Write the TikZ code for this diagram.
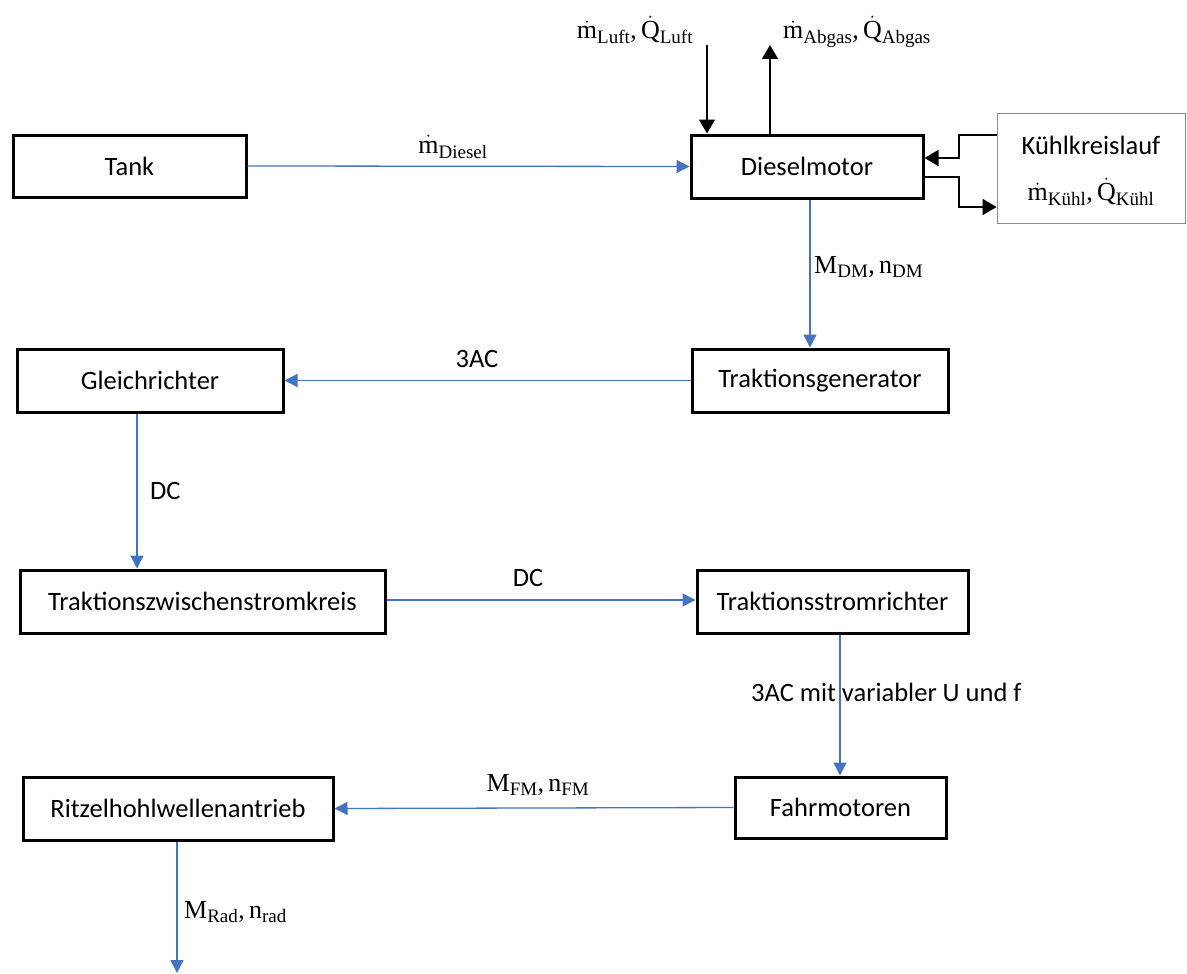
\documentclass[tikz,border=0pt]{standalone}
\usepackage[no-math]{fontspec}
\setmainfont{Carlito}
\newfontfamily\labfont{Liberation Serif}
\newcommand\sub[1]{_{\hbox{\labfont\fontsize{19}{20}\selectfont #1}}}
\newcommand\lt[1]{\hbox{\labfont #1}}
\usetikzlibrary{arrows.meta}
\definecolor{flow}{HTML}{4472C4}
\begin{document}
\begin{tikzpicture}[x=1pt,y=-1pt,
  box/.style={draw=black, line width=3pt, inner sep=0pt, font=\fontsize{26.5}{30}\selectfont},
  thinbox/.style={draw=black!45, line width=0.8pt, inner sep=0pt},
  txt/.style={font=\fontsize{26.5}{30}\selectfont, inner sep=0pt},
  lbl/.style={font=\labfont\fontsize{26}{30}\selectfont, inner sep=0pt},
  flowarrow/.style={draw=flow, line width=1.3pt, -{Triangle[length=13pt,width=13pt]}},
  blackarrow/.style={draw=black, line width=1.5pt, -{Triangle[length=14pt,width=16pt]}}]
\useasboundingbox (0,0) rectangle (1187,974);

% boxes
\node[box, minimum width=233pt, minimum height=62pt] (tank) at (129.5,166) {Tank};
\node[box, minimum width=232pt, minimum height=63pt] (diesel) at (807,166.5) {Dieselmotor};
\node[thinbox, minimum width=188pt, minimum height=110pt] (kuehl) at (1091,168) {};
\node[txt] (kuehltxt) at (1091,145) {Kühlkreislauf};
\node[lbl] (kuehllbl) at (1091,192) {$\dot{\lt{m}}\sub{Kühl}\lt{,}\,\dot{\lt{Q}}\sub{Kühl}$};
\node[box, minimum width=256pt, minimum height=63pt] (tg) at (820,380.5) {Traktionsgenerator};
\node[box, minimum width=266pt, minimum height=63pt] (gr) at (150,380.5) {Gleichrichter};
\node[box, minimum width=365pt, minimum height=63pt] (tz) at (202.5,601.5) {Traktionszwischenstromkreis};
\node[box, minimum width=271pt, minimum height=63pt] (ts) at (832.5,601.5) {Traktionsstromrichter};
\node[box, minimum width=211pt, minimum height=61pt] (fm) at (840.5,807.5) {Fahrmotoren};
\node[box, minimum width=310pt, minimum height=63pt] (rz) at (178,808.5) {Ritzelhohlwellenantrieb};

% free ends
\coordinate (luftstart) at (707,45);
\coordinate (abgasend) at (770,45);
\coordinate (radend) at (177,973);

% labels
\node[lbl] (luftlbl) at (635,30) {$\dot{\lt{m}}\sub{Luft}\lt{,}\,\dot{\lt{Q}}\sub{Luft}$};
\node[lbl] (abgaslbl) at (857,32) {$\dot{\lt{m}}\sub{Abgas}\lt{,}\,\dot{\lt{Q}}\sub{Abgas}$};
\node[lbl] (diesellbl) at (453,147) {$\dot{\lt{m}}\sub{Diesel}$};
\node[lbl, anchor=west] (dmlbl) at (814,267) {$\lt{M}\sub{DM}\lt{,}\,\lt{n}\sub{DM}$};
\node[txt] (ac1) at (477,359) {3AC};
\node[txt, anchor=west] (dc1) at (150,491) {DC};
\node[txt] (dc2) at (528,578) {DC};
\node[txt, anchor=west] (ac2) at (751,692) {3AC mit variabler U und f};
\node[lbl] (fmlbl) at (538,785) {$\lt{M}\sub{FM}\lt{,}\,\lt{n}\sub{FM}$};
\node[lbl, anchor=west] (radlbl) at (184,912) {$\lt{M}\sub{Rad}\lt{,}\,\lt{n}\sub{rad}$};

% connectors
\draw[flowarrow] (tank.east) -- (diesel.west);
\draw[blackarrow] (luftstart) -- (luftstart |- diesel.north);
\draw[blackarrow] (abgasend |- diesel.north) -- (abgasend);
\draw[blackarrow] (kuehl.west |- 0,135) -- (959,135) -- (959,158) -- (diesel.east |- 0,158);
\draw[blackarrow] (diesel.east |- 0,177) -- (959,177) -- (959,207) -- (kuehl.west |- 0,207);
\draw[flowarrow] (diesel.south -| 810,0) -- (tg.north -| 810,0);
\draw[flowarrow] (tg.west) -- (gr.east);
\draw[flowarrow] (gr.south -| 137,0) -- (tz.north -| 137,0);
\draw[flowarrow] (tz.east |- 0,600) -- (ts.west |- 0,600);
\draw[flowarrow] (ts.south -| 840,0) -- (fm.north -| 840,0);
\draw[flowarrow] (fm.west) -- (rz.east);
\draw[flowarrow] (rz.south -| 177,0) -- (radend);
\end{tikzpicture}
\end{document}
